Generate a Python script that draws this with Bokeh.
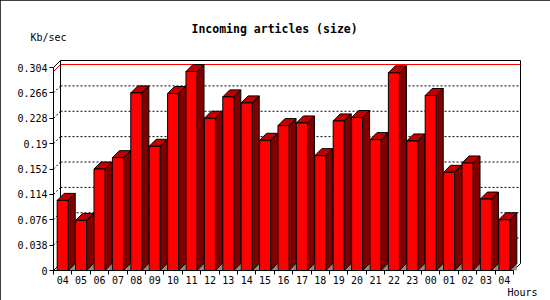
import numpy as np
from bokeh.plotting import figure
from bokeh.models import FixedTicker, Range1d, Title
from bokeh.embed import file_html
from bokeh.resources import INLINE

# ---------------- data ----------------
hours = ["04", "05", "06", "07", "08", "09", "10", "11", "12", "13", "14", "15", "16",
         "17", "18", "19", "20", "21", "22", "23", "00", "01", "02", "03", "04"]
kbps = [0.105, 0.075, 0.152, 0.169, 0.266, 0.186, 0.265, 0.298, 0.228, 0.260,
        0.251, 0.195, 0.217, 0.221, 0.172, 0.224, 0.229, 0.196, 0.296, 0.194,
        0.262, 0.147, 0.161, 0.107, 0.076]
y_ticks = [0, 0.038, 0.076, 0.114, 0.152, 0.19, 0.228, 0.266, 0.304]
y_tick_labels = ["0", "0.038", "0.076", "0.114", "0.152", "0.19", "0.228", "0.266", "0.304"]
title_text = "Incoming articles (size)"
y_unit = "Kb/sec"
x_unit = "Hours"

# ---------------- layout / style ----------------
W, H = 550, 300
LEFT, RIGHT, TOP, BOTTOM = 53, 28, 58, 30
SLOT_PX = 18.4
AXIS_PX = 203.0
DEPTH_PX = 7.0
FONT = "DejaVu Sans Mono"

n = len(hours)
y_top = y_ticks[-1]
val_px = AXIS_PX / y_top
x_end = (W - LEFT - RIGHT) / SLOT_PX
y_end = (H - TOP - BOTTOM) / val_px
DX = DEPTH_PX / SLOT_PX
DY = DEPTH_PX / val_px

p = figure(width=W, height=H, output_backend="svg", toolbar_location=None,
           x_range=Range1d(0, x_end), y_range=Range1d(0, y_end),
           min_border_left=LEFT, min_border_right=RIGHT,
           min_border_top=TOP, min_border_bottom=BOTTOM, title=None)
p.grid.visible = False
p.outline_line_color = None
p.background_fill_color = "white"
p.border_fill_color = "white"
p.styles = {"outline": "1px solid black", "outline-offset": "-1px"}

# ---------------- axes ----------------
yax = p.yaxis[0]
yax.ticker = FixedTicker(ticks=y_ticks)
yax.major_label_overrides = {t: s for t, s in zip(y_ticks, y_tick_labels)}
yax.bounds = (0, y_top)
yax.major_tick_out = 4
yax.major_tick_in = 0
yax.minor_tick_line_color = None
yax.major_label_standoff = 2
yax.major_label_text_font = FONT
yax.major_label_text_font_size = "10px"
yax.major_label_text_color = "black"
yax.axis_line_color = "black"

centers = [i + 0.5 for i in range(n)]
xax = p.xaxis[0]
xax.ticker = FixedTicker(ticks=centers, minor_ticks=list(range(n + 1)))
xax.major_label_overrides = {c: h for c, h in zip(centers, hours)}
xax.bounds = (0, n)
xax.major_tick_line_color = None
xax.major_tick_out = 0
xax.major_tick_in = 0
xax.minor_tick_out = 4
xax.minor_tick_in = 0
xax.minor_tick_line_color = "black"
xax.major_label_standoff = 1
xax.major_label_text_font = FONT
xax.major_label_text_font_size = "10px"
xax.major_label_text_color = "black"
xax.axis_line_color = "black"
xax.axis_label = x_unit
xax.axis_label_align = "end"
xax.axis_label_standoff = 0
xax.axis_label_text_font = FONT
xax.axis_label_text_font_size = "10px"
xax.axis_label_text_font_style = "normal"
xax.axis_label_text_color = "black"

# ---------------- titles ----------------
p.add_layout(Title(text=y_unit, align="left", offset=-23, standoff=31,
                   text_font=FONT, text_font_size="10px", text_font_style="normal",
                   text_color="black"), "above")
p.add_layout(Title(text=title_text, align="left", offset=138, standoff=-42,
                   text_font=FONT, text_font_size="11.5px", text_font_style="bold",
                   text_color="black"), "above")

# ---------------- 3D box (walls, grid) ----------------
grid_vals = y_ticks[1:-1]
p.multi_line(xs=[[DX, n + DX] for _ in grid_vals],
             ys=[[v + DY, v + DY] for v in grid_vals],
             line_color="black", line_dash="2 2", line_width=1)
p.multi_line(xs=[[0, DX] for _ in grid_vals],
             ys=[[v, v + DY] for v in grid_vals],
             line_color="black", line_dash="2 2", line_width=1)

vmax = max(kbps)
p.line([0, DX, n + DX], [vmax, vmax + DY, vmax + DY], line_color="red", line_width=1)

p.line([DX, DX, n + DX, n + DX], [DY, y_top + DY, y_top + DY, DY],
       line_color="black", line_width=1)
p.multi_line(xs=[[0, DX], [0, DX], [n, n + DX]],
             ys=[[y_top, y_top + DY], [0, DY], [0, DY]],
             line_color="black", line_width=1)

# ---------------- bars ----------------
k = np.arange(n)
xl = k + 0.2
xr = k + 0.8
v = np.array(kbps)

floor_xs = [[a, a + DX, a + DX] for a in xr]
floor_ys = [[0, DY, 0] for _ in xr]
p.patches(floor_xs, floor_ys, fill_color="#8c8c8c", line_color=None)

side_xs = [[a, a, a + DX, a + DX] for a in xr]
side_ys = [[0, b, b + DY, DY] for b in v]
p.patches(side_xs, side_ys, fill_color="#800000", line_color="black", line_width=1)

top_xs = [[a, a + DX, c + DX, c] for a, c in zip(xl, xr)]
top_ys = [[b, b + DY, b + DY, b] for b in v]
p.patches(top_xs, top_ys, fill_color="#c00000", line_color="black", line_width=1)

p.quad(left=xl, right=xr, bottom=0, top=v, fill_color="#ff0000",
       line_color="black", line_width=1)

open("out.html", "w").write(file_html(p, INLINE))
